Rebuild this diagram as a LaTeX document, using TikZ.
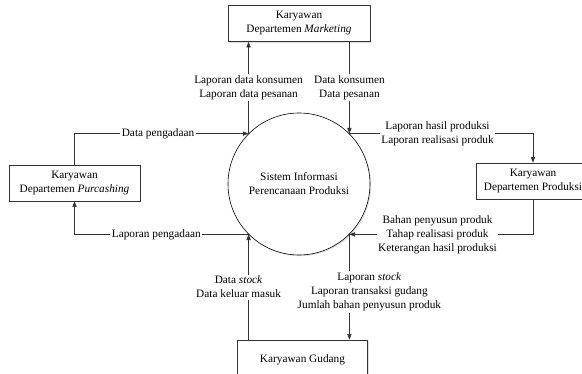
\documentclass[tikz,border=0pt]{standalone}
\usepackage{fontspec}
\setmainfont{Liberation Serif}
\usetikzlibrary{positioning,arrows.meta,shadows}

\begin{document}
\begin{tikzpicture}[
      x=1pt,y=-1pt,
      >={Triangle[length=2mm,width=1.5mm]},
      font=\fontsize{11.3}{14}\selectfont,
      ent/.style={draw=black!80,line width=0.6pt,fill=white,
        drop shadow={shadow xshift=1.2pt,shadow yshift=-1.2pt,opacity=0.25},
        align=center,inner sep=2pt},
      proc/.style={circle,draw=black,line width=0.6pt,fill=white,
        drop shadow={shadow xshift=1.2pt,shadow yshift=-1.2pt,opacity=0.25},
        minimum size=142pt,align=center,inner sep=0pt},
      flow/.style={draw=black!80,line width=0.6pt,->},
      lbl/.style={fill=white,align=center,inner sep=1.5pt}
    ]
    \useasboundingbox (0,0) rectangle (582,374);
    % process and external entities
    \node[proc] (SIS) at (299,184)
      {Sistem Informasi\\Perencanaan Produksi};
    \node[ent,minimum width=142pt,minimum height=36pt] (MKT) at (299,23.5)
      {Karyawan\\Departemen \textit{Marketing}};
    \node[ent,minimum width=131pt,minimum height=36pt] (PUR) at (74.5,183)
      {Karyawan\\Departemen \textit{Purcashing}};
    \node[ent,minimum width=114pt,minimum height=36pt] (PRD) at (533,181)
      {Karyawan\\Departemen Produksi};
    \node[ent,minimum width=130pt,minimum height=40pt] (GDG) at (302.5,360)
      {Karyawan Gudang};
    % data flows with marketing
    \draw[flow] (SIS.135) -- (SIS.135 |- MKT.south)
      node[lbl,midway] {Laporan data konsumen\\Laporan data pesanan};
    \draw[flow] (MKT.south -| SIS.45) -- (SIS.45)
      node[lbl,midway] {Data konsumen\\Data pesanan};
    % data flows with purcashing
    \draw[flow] (PUR.north) |- (SIS.135)
      node[lbl,pos=0.74] {Data pengadaan};
    \draw[flow] (SIS.225) -| (PUR.south)
      node[lbl,pos=0.265] {Laporan pengadaan};
    % data flows with produksi
    \draw[flow] (SIS.45) -| (PRD.north)
      node[lbl,pos=0.24] {Laporan hasil produksi\\Laporan realisasi produk};
    \draw[flow] (PRD.south) |- (SIS.315)
      node[lbl,pos=0.76] {Bahan penyusun produk\\Tahap realisasi produk\\Keterangan hasil produksi};
    % data flows with gudang
    \draw[flow] (GDG.north -| SIS.225) -- (SIS.225)
      node[lbl,midway,xshift=-10pt] {Data \textit{stock}\\Data keluar masuk};
    \draw[flow] (SIS.315) -- (SIS.315 |- GDG.north)
      node[lbl,midway,xshift=20pt,yshift=-5pt] {Laporan \textit{stock}\\Laporan transaksi gudang\\Jumlah bahan penyusun produk};
  \end{tikzpicture}
\end{document}
